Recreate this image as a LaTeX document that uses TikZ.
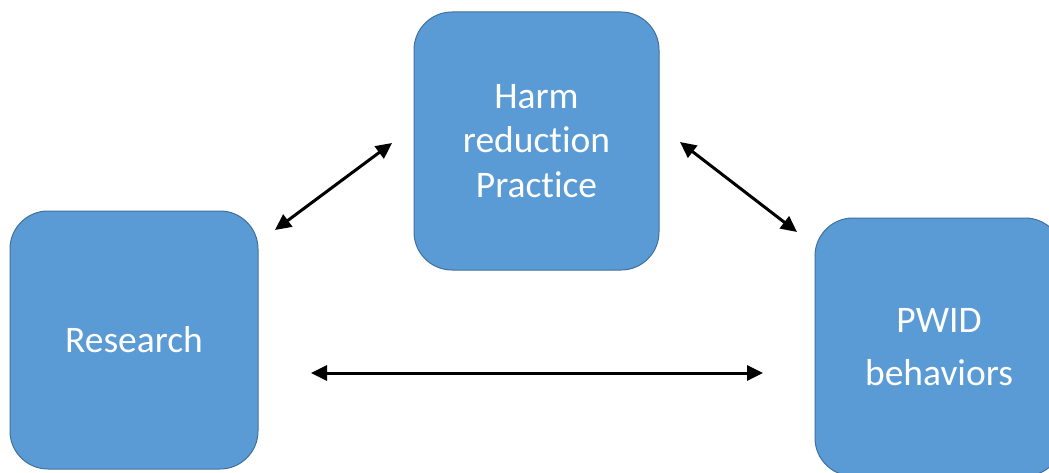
\documentclass[tikz,border=0pt]{standalone}
\usepackage{fontspec}
\setmainfont{Carlito}[Ligatures=NoCommon]
\usetikzlibrary{arrows.meta}
\definecolor{boxfill}{HTML}{5B9BD5}
\definecolor{boxline}{HTML}{41719C}
\tikzset{
  box/.style={draw=boxline, line width=1pt, fill=boxfill, rounded corners=38pt,
    minimum width=#1, text=white, align=center, inner sep=0pt,
    font=\fontsize{37.5}{44.5}\selectfont},
  link/.style={line width=3pt, {Triangle[length=16pt,width=15pt]}-{Triangle[length=16pt,width=15pt]}}
}
\begin{document}
\begin{tikzpicture}[x=1pt,y=1pt]
\useasboundingbox (0,0) rectangle (1049,472);
\clip (0,0) rectangle (1049,472);
\fill[white] (0,0) rectangle (1049,472);
\node[box=245pt, minimum height=258pt] (harm) at (536.5,331) {Harm\\reduction\\Practice};
\node[box=248pt, minimum height=258pt] (res) at (134,132) {Research};
\node[box=248pt, minimum height=258pt, font=\fontsize{37.5}{53}\selectfont] (pwid) at (939,125) {PWID\\behaviors};
\coordinate (a1) at (275,242);
\coordinate (a2) at (392,329);
\coordinate (b1) at (680,330);
\coordinate (b2) at (797,240);
\coordinate (c1) at (311,99);
\coordinate (c2) at (763,99);
\draw[link] (a1) -- (a2);
\draw[link] (b1) -- (b2);
\draw[link] (c1) -- (c2);
\end{tikzpicture}
\end{document}
